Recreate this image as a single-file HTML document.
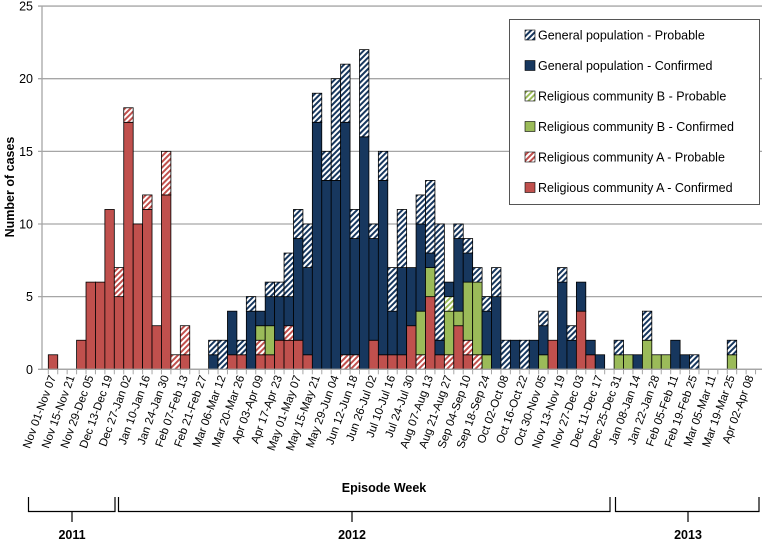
<!DOCTYPE html>
<html><head><meta charset="utf-8">
<style>
body{margin:0;background:#fff;}
svg{display:block;font-family:"Liberation Sans",sans-serif;}
</style></head>
<body>
<svg id="chart" width="768" height="545" viewBox="0 0 768 545">
<defs>
<pattern id="hatchG" patternUnits="userSpaceOnUse" width="4" height="4" patternTransform="rotate(45)"><rect width="4" height="4" fill="#fff"/><rect width="2" height="4" fill="#17375e"/></pattern>
<pattern id="hatchB" patternUnits="userSpaceOnUse" width="4" height="4" patternTransform="rotate(45)"><rect width="4" height="4" fill="#fff"/><rect width="2" height="4" fill="#9bbb59"/></pattern>
<pattern id="hatchA" patternUnits="userSpaceOnUse" width="4" height="4" patternTransform="rotate(45)"><rect width="4" height="4" fill="#fff"/><rect width="2" height="4" fill="#c0504d"/></pattern>
</defs>
<g id="grid"></g>
<g id="bars"></g>
<g id="xlabels"></g>
<text x="14" y="187" transform="rotate(-90 14 187)" text-anchor="middle" font-size="12.5" font-weight="bold">Number of cases</text>
<text x="384" y="492" text-anchor="middle" font-size="12.5" font-weight="bold">Episode Week</text>
<g stroke="#000" stroke-width="1.2" fill="none">
<path d="M28.5 497V511.5H115V497M72 511.5V522"/>
<path d="M118.5 497V511.5H610V497M352 511.5V522"/>
<path d="M615.5 497V511.5H759V497M688 511.5V522"/>
</g>
<text x="72" y="539" text-anchor="middle" font-size="12.5" font-weight="bold">2011</text>
<text x="352" y="539" text-anchor="middle" font-size="12.5" font-weight="bold">2012</text>
<text x="688" y="539" text-anchor="middle" font-size="12.5" font-weight="bold">2013</text>
<g id="legend">
<rect x="509.5" y="19.5" width="250" height="185" fill="#fff" stroke="#555" stroke-width="1"/>
</g>
</svg>
<script>
const aConf=[1,0,0,2,6,6,11,5,17,10,11,3,12,0,1,0,0,0,0,1,1,0,1,1,2,2,2,1,0,0,0,0,0,0,2,1,1,1,3,0,5,1,0,3,1,0,0,0,0,0,0,0,0,2,0,0,4,1,0,0,0,0,0,0,0,0,0,0,0,0,0,0,0,0,0];
const aProb=[0,0,0,0,0,0,0,2,1,0,1,0,3,1,2,0,0,0,0,0,0,0,1,0,0,1,0,0,0,0,0,1,1,0,0,0,0,0,0,1,0,0,1,0,1,1,0,0,0,0,0,0,0,0,0,0,0,0,0,0,0,0,0,0,0,0,0,0,0,0,0,0,0,0,0];
const bConf=[0,0,0,0,0,0,0,0,0,0,0,0,0,0,0,0,0,0,0,0,0,0,1,2,0,0,0,0,0,0,0,0,0,0,0,0,0,0,0,3,2,0,3,1,4,5,1,0,0,0,0,0,1,0,0,0,0,0,0,0,1,1,0,2,1,1,0,0,0,0,0,0,1,0,0];
const bProb=[0,0,0,0,0,0,0,0,0,0,0,0,0,0,0,0,0,0,0,0,0,0,0,0,0,0,0,0,0,0,0,0,0,0,0,0,0,0,0,0,0,0,1,0,0,0,0,0,0,0,0,0,0,0,0,0,0,0,0,0,0,0,0,0,0,0,0,0,0,0,0,0,0,0,0];
const gConf=[0,0,0,0,0,0,0,0,0,0,0,0,0,0,0,0,0,1,0,3,0,4,1,2,3,2,7,6,17,13,13,16,8,16,7,12,3,6,4,6,1,1,1,5,2,0,3,5,0,2,0,2,2,0,6,2,2,1,1,0,0,0,1,0,0,0,2,1,0,0,0,0,0,0,0];
const gProb=[0,0,0,0,0,0,0,0,0,0,0,0,0,0,0,0,0,1,2,0,1,1,0,1,1,3,2,3,2,2,7,4,2,6,1,2,3,4,0,2,5,8,0,1,1,1,1,2,2,0,2,0,1,0,1,1,0,0,0,0,1,0,0,2,0,0,0,0,1,0,0,0,1,0,0];
const yTicks=[0,5,10,15,20,25];
const startDate=new Date(Date.UTC(2011,10,1));
const monthNames=["Jan","Feb","Mar","Apr","May","Jun","Jul","Aug","Sep","Oct","Nov","Dec"];

const NS="http://www.w3.org/2000/svg";
const X0=48.3, STEP=9.43, Y0=369.3, PX=14.53;
function xScale(i){return X0+i*STEP;}
function yScale(v){return Y0-v*PX;}
function mk(tag,attrs,parent){const e=document.createElementNS(NS,tag);for(const k in attrs)e.setAttribute(k,attrs[k]);parent.appendChild(e);return e;}
function fmt(d){return monthNames[d.getUTCMonth()]+" "+String(d.getUTCDate()).padStart(2,"0");}

const grid=document.getElementById("grid");
yTicks.forEach(t=>{
  const y=yScale(t);
  const l=mk("line",{x1:38,x2:762,y1:y,y2:y,stroke:"#a6a6a6","stroke-width":1.3},grid);
  
  
  const tx=mk("text",{x:33,y:y+4.5,"text-anchor":"end","font-size":12.5},grid);
  tx.textContent=t;
  
  
});
mk("line",{x1:42,x2:42,y1:yScale(25),y2:Y0,stroke:"#a6a6a6","stroke-width":1.3},grid);

const series=[
  {v:aConf,f:"#c0504d",n:"relA-confirmed"},
  {v:aProb,f:"url(#hatchA)",n:"relA-probable"},
  {v:bConf,f:"#9bbb59",n:"relB-confirmed"},
  {v:bProb,f:"url(#hatchB)",n:"relB-probable"},
  {v:gConf,f:"#17375e",n:"gen-confirmed"},
  {v:gProb,f:"url(#hatchG)",n:"gen-probable"}
];
const bars=document.getElementById("bars");
for(let i=0;i<aConf.length;i++){
  let acc=0;
  series.forEach(s=>{
    const v=s.v[i];
    if(v>0){
      const r=mk("rect",{x:xScale(i),y:yScale(acc+v),width:STEP,height:v*PX,fill:s.f,stroke:"#000","stroke-width":0.8},bars);
      
      
      acc+=v;
    }
  });
}
const xl=document.getElementById("xlabels");
for(let i=0;i<=aConf.length;i++){
  mk("line",{x1:xScale(i),x2:xScale(i),y1:Y0,y2:Y0+5,stroke:"#a6a6a6","stroke-width":1},xl);
}
for(let i=0;i<aConf.length;i+=2){
  const d0=new Date(startDate.getTime()+i*7*864e5);
  const d1=new Date(d0.getTime()+6*864e5);
  const cx=xScale(i)+STEP/2+3, cy=377;
  const t=mk("text",{x:cx,y:cy,"text-anchor":"end","font-size":11.5,transform:"rotate(-70 "+cx+" "+cy+")"},xl);
  t.textContent=fmt(d0)+"-"+fmt(d1);
  
  
}
mk("line",{x1:42,x2:762,y1:Y0,y2:Y0,stroke:"#a6a6a6","stroke-width":1.3},xl);

const legendItems=[
  {f:"url(#hatchG)",t:"General population - Probable"},
  {f:"#17375e",t:"General population - Confirmed"},
  {f:"url(#hatchB)",t:"Religious community B - Probable"},
  {f:"#9bbb59",t:"Religious community B - Confirmed"},
  {f:"url(#hatchA)",t:"Religious community A - Probable"},
  {f:"#c0504d",t:"Religious community A - Confirmed"}
];
const lg=document.getElementById("legend");
legendItems.forEach((it,k)=>{
  const y=35+k*30.5;
  const g=mk("g",{},lg);
  
  
  mk("rect",{x:525,y:y-5,width:10,height:10,fill:it.f,stroke:"#000","stroke-width":0.6},g);
  const t=mk("text",{x:538,y:y+4.5,"font-size":12.5},g);
  t.textContent=it.t;
});
</script>
</body></html>
